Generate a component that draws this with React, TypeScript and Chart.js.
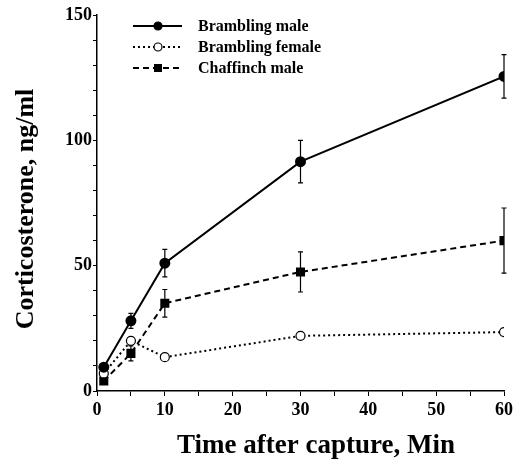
import React, { useEffect, useRef } from 'react';
import { Chart, registerables } from 'chart.js';

Chart.register(...registerables);

const times = [1, 5, 10, 30, 60];
const bramblingMale = [9.5, 28, 51, 91.5, 125.5];
const bramblingMaleErr = [1, 3, 5.5, 8.5, 8.7];
const bramblingFemale = [7, 20, 13.5, 22, 23.5];
const chaffinchMale = [4, 15, 35, 47.5, 60];
const chaffinchMaleErr = [0.8, 3, 5.5, 8, 13];
const yMajorTicks = [0, 50, 100, 150];
const xMajorTicks = [0, 10, 20, 30, 40, 50, 60];
const seriesNames = ['Brambling male', 'Brambling female', 'Chaffinch male'];
const yTitle = 'Corticosterone, ng/ml';
const xTitle = 'Time after capture, Min';

const FONT = '"Liberation Serif", "Times New Roman", serif';

const errorBarPlugin = {
  id: 'errorBars',
  beforeDatasetsDraw(chart: any) {
    const ctx = chart.ctx;
    const ys = chart.scales.y;
    chart.data.datasets.forEach((ds: any, i: number) => {
      if (!ds.errors) return;
      const meta = chart.getDatasetMeta(i);
      meta.data.forEach((pt: any, j: number) => {
        const v = ds.data[j].y;
        const e = ds.errors[j];
        const top = ys.getPixelForValue(v + e);
        const bot = ys.getPixelForValue(v - e);
        ctx.save();
        ctx.strokeStyle = '#000';
        ctx.lineWidth = 1.2;
        ctx.beginPath();
        ctx.moveTo(pt.x, top);
        ctx.lineTo(pt.x, bot);
        ctx.moveTo(pt.x - 2.5, top);
        ctx.lineTo(pt.x + 2.5, top);
        ctx.moveTo(pt.x - 2.5, bot);
        ctx.lineTo(pt.x + 2.5, bot);
        ctx.stroke();
        ctx.restore();
      });
    });
  },
};

const decorPlugin = {
  id: 'decor',
  afterDraw(chart: any) {
    const ctx = chart.ctx;
    ctx.save();
    // Axis titles
    ctx.fillStyle = '#000';
    ctx.font = `bold 27px ${FONT}`;
    ctx.textAlign = 'center';
    ctx.textBaseline = 'middle';
    ctx.fillText(xTitle, 316, 446);
    ctx.save();
    ctx.font = `bold 26px ${FONT}`;
    ctx.translate(26, 209);
    ctx.rotate(-Math.PI / 2);
    ctx.fillText(yTitle, 0, 0);
    ctx.restore();

    // Legend
    const rows = [26, 47, 68];
    chart.data.datasets.forEach((ds: any, i: number) => {
      const y = rows[i];
      ctx.save();
      ctx.strokeStyle = '#000';
      ctx.lineWidth = ds.borderWidth;
      ctx.setLineDash(ds.borderDash || []);
      ctx.beginPath();
      ctx.moveTo(133, y);
      ctx.lineTo(182, y);
      ctx.stroke();
      ctx.setLineDash([]);
      ctx.lineWidth = 1.2;
      ctx.fillStyle = ds.pointBackgroundColor;
      if (ds.pointStyle === 'rect') {
        ctx.fillRect(158 - 4, y - 4, 8, 8);
      } else {
        ctx.beginPath();
        ctx.arc(158, y, ds.pointRadius - 0.5, 0, Math.PI * 2);
        ctx.fill();
        ctx.stroke();
      }
      ctx.restore();
      ctx.fillStyle = '#000';
      ctx.font = `bold 16px ${FONT}`;
      ctx.textAlign = 'left';
      ctx.textBaseline = 'middle';
      ctx.fillText(seriesNames[i], 198, y + 1);
    });
    ctx.restore();
  },
};

export default function App() {
  const ref = useRef<HTMLCanvasElement | null>(null);
  useEffect(() => {
    document.body.style.margin = '0';
    if (!ref.current) return;
    const mk = (arr: number[]) => times.map((t, i) => ({ x: t, y: arr[i] }));
    const chart = new Chart(ref.current, {
      type: 'line',
      data: {
        datasets: [
          {
            label: seriesNames[0],
            data: mk(bramblingMale),
            errors: bramblingMaleErr,
            borderColor: '#000',
            borderWidth: 2,
            pointStyle: 'circle',
            pointRadius: 4.5,
            pointBackgroundColor: '#000',
            pointBorderColor: '#000',
            tension: 0,
          } as any,
          {
            label: seriesNames[1],
            data: mk(bramblingFemale),
            borderColor: '#000',
            borderWidth: 2,
            borderDash: [2, 3],
            pointStyle: 'circle',
            pointRadius: 4.5,
            pointBorderWidth: 1.2,
            pointBackgroundColor: '#fff',
            pointBorderColor: '#000',
            tension: 0,
          } as any,
          {
            label: seriesNames[2],
            data: mk(chaffinchMale),
            errors: chaffinchMaleErr,
            borderColor: '#000',
            borderWidth: 2,
            borderDash: [6, 4],
            pointStyle: 'rect',
            pointRadius: 5,
            pointBackgroundColor: '#000',
            pointBorderColor: '#000',
            tension: 0,
          } as any,
        ],
      },
      options: {
        animation: false,
        responsive: true,
        maintainAspectRatio: false,
        layout: { padding: { top: 15, right: 9, left: 0, bottom: 0 } },
        plugins: { legend: { display: false }, tooltip: { enabled: false } },
        scales: {
          x: {
            type: 'linear',
            min: 0,
            max: 60,
            border: { display: true, color: '#000', width: 1.5 },
            grid: { drawOnChartArea: false, drawTicks: true, tickLength: 5, color: '#000' },
            ticks: {
              stepSize: 5,
              autoSkip: false,
              maxRotation: 0,
              padding: 4,
              color: '#000',
              font: { family: FONT, size: 18, weight: 'bold' },
              callback: (v: any) => (xMajorTicks.includes(Number(v)) ? String(v) : ''),
            },
            afterFit: (s: any) => {
              s.height = 70;
            },
          },
          y: {
            type: 'linear',
            min: 0,
            max: 150,
            border: { display: true, color: '#000', width: 1.5 },
            grid: { drawOnChartArea: false, drawTicks: true, tickLength: 4, color: '#000' },
            ticks: {
              stepSize: 10,
              autoSkip: false,
              padding: 1,
              color: '#000',
              font: { family: FONT, size: 18, weight: 'bold' },
              callback: (v: any) => (yMajorTicks.includes(Number(v)) ? String(v) : ''),
            },
            afterFit: (s: any) => {
              s.width = 97;
            },
          },
        },
      } as any,
      plugins: [errorBarPlugin, decorPlugin],
    });
    return () => chart.destroy();
  }, []);
  return (
    <div style={{ position: 'relative', width: 517, height: 461 }}>
      <canvas ref={ref} />
    </div>
  );
}
